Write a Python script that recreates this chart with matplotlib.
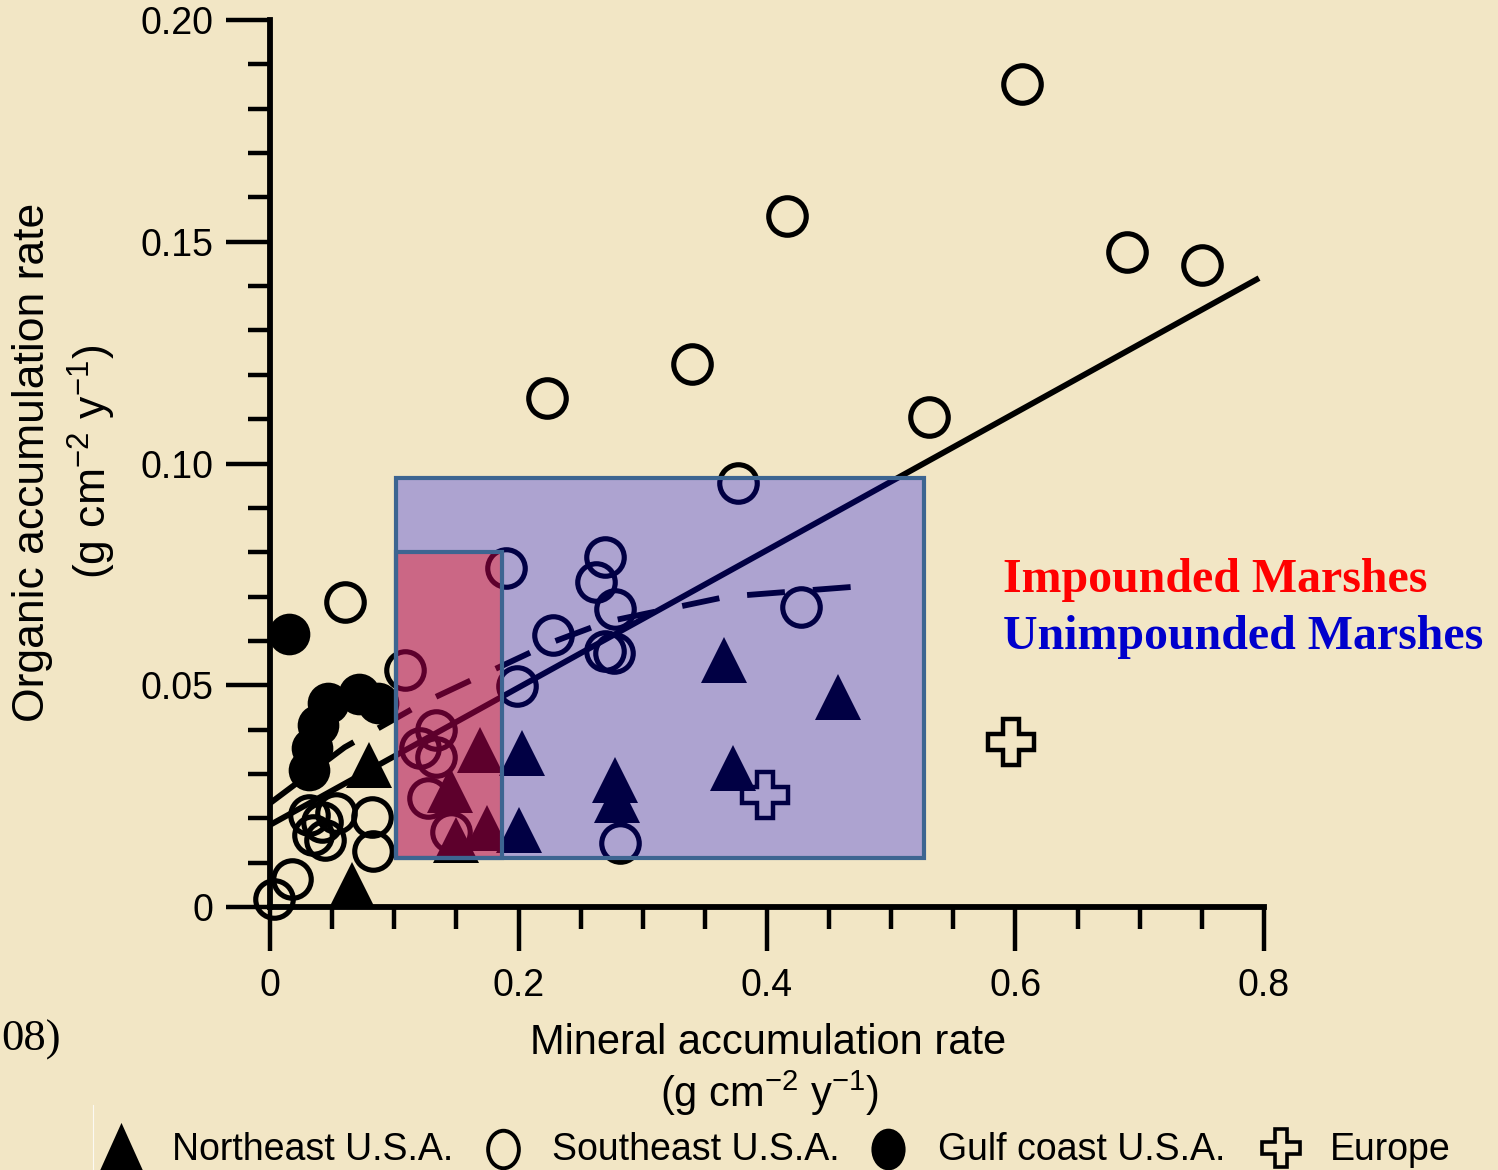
import matplotlib
matplotlib.use("Agg")
import matplotlib.pyplot as plt
from matplotlib.path import Path
from matplotlib.patches import Rectangle, Polygon
from matplotlib.ticker import MultipleLocator
from matplotlib import font_manager as fm

plt.rcParams["font.family"] = ["Liberation Sans", "DejaVu Sans"]
plt.rcParams["mathtext.fontset"] = "custom"
plt.rcParams["mathtext.rm"] = "Liberation Sans"
plt.rcParams["mathtext.it"] = "Liberation Sans"

# ---- data: mineral (x) vs organic (y) accumulation, g cm-2 y-1 ----
northeast_x = [0.365, 0.457, 0.373, 0.278, 0.279, 0.203, 0.169, 0.145, 0.175,
               0.150, 0.200, 0.080, 0.066]
northeast_y = [0.0557, 0.0474, 0.0313, 0.0286, 0.0241, 0.0347, 0.0354, 0.0264,
               0.0178, 0.0151, 0.0174, 0.0320, 0.0050]

southeast_x = [0.605, 0.416, 0.690, 0.750, 0.340, 0.223, 0.530, 0.377, 0.060,
               0.190, 0.270, 0.262, 0.278, 0.228, 0.270, 0.277, 0.199, 0.109,
               0.134, 0.121, 0.134, 0.127, 0.146, 0.282, 0.427, 0.031, 0.042,
               0.035, 0.053, 0.044, 0.082, 0.083, 0.018, 0.003]
southeast_y = [0.1856, 0.1558, 0.1477, 0.1448, 0.1224, 0.1148, 0.1105, 0.0956,
               0.0688, 0.0764, 0.0789, 0.0733, 0.0672, 0.0613, 0.0577, 0.0573,
               0.0498, 0.0534, 0.0399, 0.0359, 0.0338, 0.0246, 0.0169, 0.0144,
               0.0676, 0.0207, 0.0192, 0.0162, 0.0212, 0.0151, 0.0203, 0.0126,
               0.0063, 0.0018]

gulf_x = [0.015, 0.072, 0.047, 0.087, 0.039, 0.034, 0.031]
gulf_y = [0.0616, 0.0480, 0.0460, 0.0460, 0.0410, 0.0359, 0.0309]

europe_x = [0.596, 0.398]
europe_y = [0.0372, 0.0253]

# regression lines
fit_x = [0.0, 0.796]
fit_y = [0.0185, 0.1418]
curve_x = [0.0, 0.06, 0.123, 0.167, 0.228, 0.271, 0.368, 0.479]
curve_y = [0.0234, 0.0360, 0.0460, 0.0518, 0.0598, 0.0643, 0.0700, 0.0724]

# highlighted ranges (x0, x1, y0, y1)
unimpounded_box = [0.1014, 0.5265, 0.0110, 0.0967]
impounded_box = [0.1014, 0.1868, 0.0110, 0.0800]

x_ticks = [0, 0.2, 0.4, 0.6, 0.8]
x_tick_labels = ["0", "0.2", "0.4", "0.6", "0.8"]
y_ticks = [0, 0.05, 0.10, 0.15, 0.20]
y_tick_labels = ["0", "0.05", "0.10", "0.15", "0.20"]

legend_labels = ["Northeast U.S.A.", "Southeast U.S.A.", "Gulf coast U.S.A.", "Europe"]

# ---- figure ----
W, H = 1498, 1170
BG = "#F2E6C5"
fig = plt.figure(figsize=(W / 100, H / 100), dpi=100)
fig.patch.set_facecolor(BG)


def fx(px):
    return px / W


def fy(py):
    return 1 - py / H


ax = fig.add_axes([fx(270), fy(907), 994 / W, 887 / H])
ax.set_facecolor("none")
ax.set_xlim(0, 0.8)
ax.set_ylim(0, 0.2)
for side in ("top", "right"):
    ax.spines[side].set_visible(False)
for side in ("left", "bottom"):
    ax.spines[side].set_linewidth(4.2)
    ax.spines[side].set_capstyle("projecting")

ax.set_xticks(x_ticks)
ax.set_xticklabels(x_tick_labels)
ax.set_yticks(y_ticks)
ax.set_yticklabels(y_tick_labels)
ax.xaxis.set_minor_locator(MultipleLocator(0.05))
ax.yaxis.set_minor_locator(MultipleLocator(0.01))
ax.tick_params(which="major", direction="out", length=32, width=3.2, labelsize=27)
ax.tick_params(which="minor", direction="out", length=16, width=3.2)
ax.tick_params(axis="y", which="major", pad=9)
ax.tick_params(axis="x", which="major", pad=12)

# lines
ax.plot(fit_x, fit_y, color="black", lw=4.2, solid_capstyle="butt", zorder=2, clip_on=False)
ax.plot(curve_x, curve_y, color="black", lw=4.2, dashes=(6.5, 4.8),
        dash_capstyle="butt", zorder=2, clip_on=False)

# markers
ax.plot(southeast_x, southeast_y, ls="none", marker="o", ms=27, mfc="none",
        mec="black", mew=3.7, zorder=3, clip_on=False)
ax.plot(gulf_x, gulf_y, ls="none", marker="o", ms=30, mfc="black",
        mec="black", mew=0, zorder=3, clip_on=False)
ax.plot(northeast_x, northeast_y, ls="none", marker="^", ms=33, mfc="black",
        mec="black", mew=0, zorder=3, clip_on=False)
ax.plot(europe_x, europe_y, ls="none", marker="P", ms=33, mfc="none",
        mec="black", mew=3.2, zorder=3, clip_on=False)

# translucent overlays for marsh classes
ux0, ux1, uy0, uy1 = unimpounded_box
ix0, ix1, iy0, iy1 = impounded_box
ax.add_patch(Polygon([(ix1, uy0), (ux1, uy0), (ux1, uy1), (ux0, uy1), (ux0, iy1),
                      (ix1, iy1)], closed=True, facecolor=(0.02, 0.0, 0.92),
                     alpha=0.29, edgecolor="none", zorder=5))
ax.add_patch(Rectangle((ix0, iy0), ix1 - ix0, iy1 - iy0, facecolor=(0.67, 0.0, 0.32),
                       alpha=0.55, edgecolor="none", zorder=5))
ax.add_patch(Rectangle((ux0, uy0), ux1 - ux0, uy1 - uy0, facecolor="none",
                       edgecolor="#3D6591", lw=3.0, zorder=6))
ax.add_patch(Rectangle((ix0, iy0), ix1 - ix0, iy1 - iy0, facecolor="none",
                       edgecolor="#3D6591", lw=3.0, zorder=6))

# axis titles
fig.text(fx(768), fy(1043), "Mineral accumulation rate", ha="center", va="center",
         fontsize=30)
fig.text(fx(770), fy(1093), r"(g cm$^{-2}$ y$^{-1}$)", ha="center", va="center",
         fontsize=30)
fig.text(fx(33), fy(462), "Organic accumulation rate", ha="center", va="center",
         fontsize=32, rotation=90)
fig.text(fx(92), fy(462), r"(g cm$^{-2}$ y$^{-1}$)", ha="center", va="center",
         fontsize=32, rotation=90)

# class annotations
fig.text(fx(1003), fy(580), "Impounded Marshes", ha="left", va="center",
         fontsize=34.5, fontweight="bold", color="#FF0000",
         family=["Liberation Serif", "DejaVu Serif"])
fig.text(fx(1003), fy(637), "Unimpounded Marshes", ha="left", va="center",
         fontsize=34.5, fontweight="bold", color="#0000CC",
         family=["Liberation Serif", "DejaVu Serif"])
fig.text(fx(1), fy(1040), "08)", ha="left", va="center", fontsize=32,
         family=["Liberation Serif", "DejaVu Serif"])

# legend row along the bottom
lg = fig.add_axes([0, 0, 1, 1])
lg.set_xlim(0, W)
lg.set_ylim(H, 0)
lg.axis("off")
lg.patch.set_visible(False)

tri = Path([(-0.9, -1.0), (0.9, -1.0), (0.0, 1.0), (-0.9, -1.0)])
circ = Path.unit_circle()
ell = Path(circ.vertices * [0.82, 1.0], circ.codes)

lg.plot([121], [1146], ls="none", marker=tri, ms=34, mfc="black", mew=0, clip_on=False)
lg.plot([503], [1149], ls="none", marker=ell, ms=27, mfc="none", mec="black", mew=2.8,
        clip_on=False)
lg.plot([888], [1149], ls="none", marker=ell, ms=30, mfc="black", mew=0, clip_on=False)
lg.plot([1281], [1148], ls="none", marker="P", ms=27, mfc="none", mec="black", mew=2.6,
        clip_on=False)
lg.plot([93, 93], [1105, 1170], color="white", lw=0.8, alpha=0.8)

names = {f.name for f in fm.fontManager.ttflist}
if "Liberation Sans Narrow" in names:
    lfam, lsize = "Liberation Sans Narrow", 33
else:
    lfam, lsize = "Liberation Sans", 27
for lx, lab in zip([172, 552, 938, 1330], legend_labels):
    lg.text(lx, 1150, lab, ha="left", va="center", fontsize=lsize, family=lfam)

fig.savefig("out.png", dpi=100, facecolor=BG)
